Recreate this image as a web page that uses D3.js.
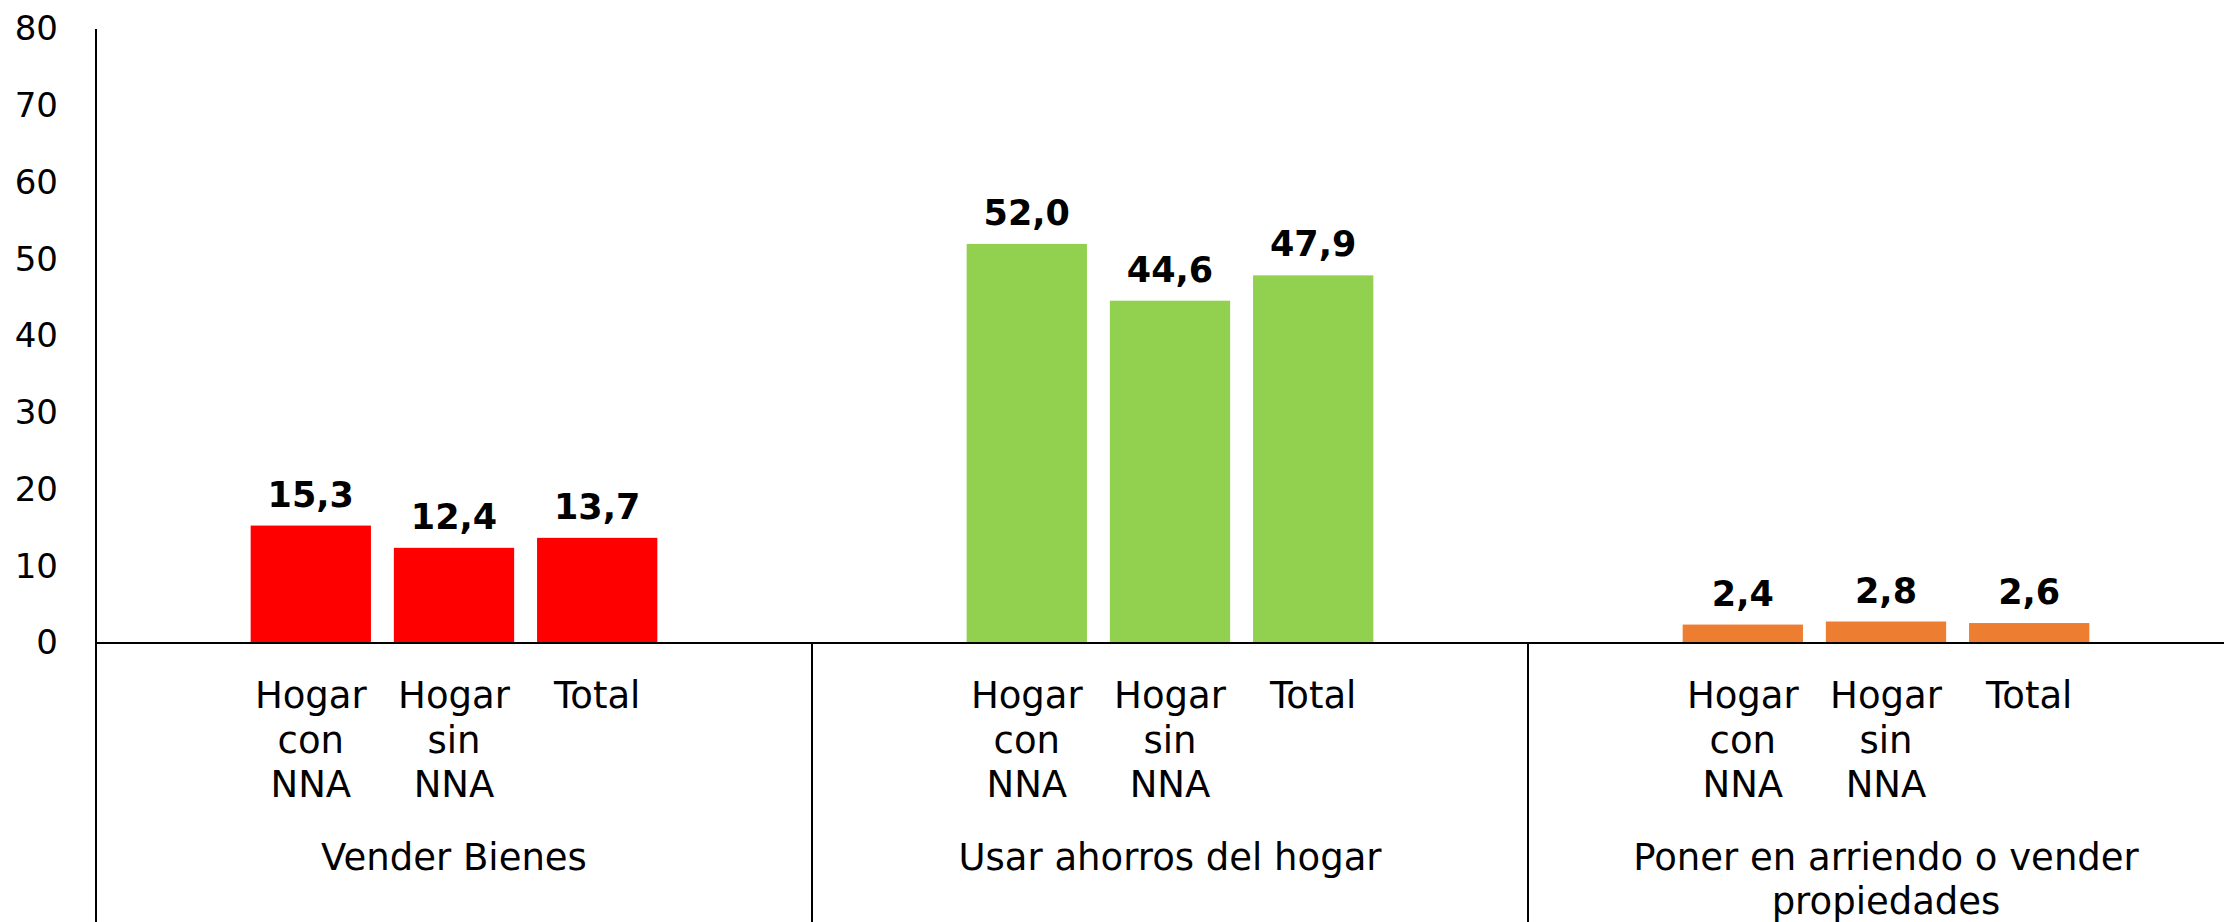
<!DOCTYPE html>
<html>
<head>
<meta charset="utf-8">
<script src="https://cdn.jsdelivr.net/npm/d3@7"></script>
<style>
  body { margin: 0; background: #fff; }
  text { font-family: "DejaVu Sans", Verdana, sans-serif; fill: #000; }
</style>
</head>
<body>
<div id="chart"></div>
<script>
var width = 2224,
  height = 922;

// Data
var groups = ["Vender Bienes", "Usar ahorros del hogar", "Poner en arriendo o vender propiedades"];
var groupLines = [["Vender Bienes"], ["Usar ahorros del hogar"], ["Poner en arriendo o vender", "propiedades"]];
var series = ["Hogar con NNA", "Hogar sin NNA", "Total"];
var seriesLines = [["Hogar", "con", "NNA"], ["Hogar", "sin", "NNA"], ["Total"]];
var values = [
  [15.3, 12.4, 13.7],
  [52.0, 44.6, 47.9],
  [2.4, 2.8, 2.6]
];
var groupColors = ["#FF0000", "#92D050", "#ED7D31"];
var yTicks = [0, 10, 20, 30, 40, 50, 60, 70, 80];

var left = 96,
  groupW = 716,
  baseY = 643,
  topY = 29;

// Scales
var x0 = d3.scaleBand()
  .domain(groups)
  .range([left, left + groupW * groups.length]);

var x1 = d3.scaleBand()
  .domain(series)
  .range([0, x0.bandwidth()])
  .paddingInner(0.16)
  .paddingOuter(1.08);

var y = d3.scaleLinear()
  .domain([0, 80])
  .range([baseY, topY]);

var fmt = function (v) { return d3.format(".1f")(v).replace(".", ","); };

var svg = d3.select("#chart")
  .append("svg")
  .attr("width", width)
  .attr("height", height);

// Y axis labels (no tick marks)
var yAxis = svg.append("g")
  .attr("transform", "translate(" + left + ",0)")
  .call(d3.axisLeft(y).tickValues(yTicks).tickSize(0).tickPadding(38));

yAxis.select(".domain").remove();
yAxis.selectAll("text")
  .style("font-size", "34px")
  .style("font-family", "'DejaVu Sans', Verdana, sans-serif")
  .attr("fill", "#000");

// Bars
var g = svg.selectAll(".group")
  .data(groups)
  .enter()
  .append("g")
  .attr("class", "group")
  .attr("transform", function (d) { return "translate(" + x0(d) + ",0)"; });

g.selectAll("rect")
  .data(function (d, i) {
    return series.map(function (s, j) { return { s: s, v: values[i][j], c: groupColors[i] }; });
  })
  .enter()
  .append("rect")
  .attr("x", function (d) { return x1(d.s); })
  .attr("y", function (d) { return y(d.v); })
  .attr("width", x1.bandwidth())
  .attr("height", function (d) { return y(0) - y(d.v); })
  .attr("fill", function (d) { return d.c; });

// Value labels
g.selectAll(".val")
  .data(function (d, i) {
    return series.map(function (s, j) { return { s: s, v: values[i][j] }; });
  })
  .enter()
  .append("text")
  .attr("class", "val")
  .attr("x", function (d) { return x1(d.s) + x1.bandwidth() / 2; })
  .attr("y", function (d) { return y(d.v) - 19; })
  .attr("text-anchor", "middle")
  .style("font-size", "35px")
  .style("font-weight", "bold")
  .text(function (d) { return fmt(d.v); });

// Series labels under bars
g.selectAll(".cat")
  .data(series)
  .enter()
  .append("text")
  .attr("class", "cat")
  .attr("x", function (d) { return x1(d) + x1.bandwidth() / 2; })
  .attr("y", 708)
  .attr("text-anchor", "middle")
  .style("font-size", "37px")
  .selectAll("tspan")
  .data(function (d) { return seriesLines[series.indexOf(d)]; })
  .enter()
  .append("tspan")
  .attr("x", function () { return d3.select(this.parentNode).attr("x"); })
  .attr("dy", function (d, k) { return k === 0 ? 0 : 44.5; })
  .text(function (d) { return d; });

// Group labels
svg.selectAll(".glabel")
  .data(groups)
  .enter()
  .append("text")
  .attr("class", "glabel")
  .attr("x", function (d) { return x0(d) + x0.bandwidth() / 2; })
  .attr("y", 870)
  .attr("text-anchor", "middle")
  .style("font-size", "37px")
  .selectAll("tspan")
  .data(function (d) { return groupLines[groups.indexOf(d)]; })
  .enter()
  .append("tspan")
  .attr("x", function () { return d3.select(this.parentNode).attr("x"); })
  .attr("dy", function (d, k) { return k === 0 ? 0 : 44; })
  .text(function (d) { return d; });

// Axis lines and group separators
svg.append("line")
  .attr("x1", left).attr("x2", width)
  .attr("y1", y(0)).attr("y2", y(0))
  .attr("stroke", "#000")
  .attr("stroke-width", 2);

svg.append("line")
  .attr("x1", left).attr("x2", left)
  .attr("y1", y(80)).attr("y2", height)
  .attr("stroke", "#000")
  .attr("stroke-width", 2);

svg.selectAll(".sep")
  .data(groups.slice(1))
  .enter()
  .append("line")
  .attr("class", "sep")
  .attr("x1", function (d) { return x0(d); })
  .attr("x2", function (d) { return x0(d); })
  .attr("y1", y(0))
  .attr("y2", height)
  .attr("stroke", "#000")
  .attr("stroke-width", 2);
</script>
</body>
</html>
